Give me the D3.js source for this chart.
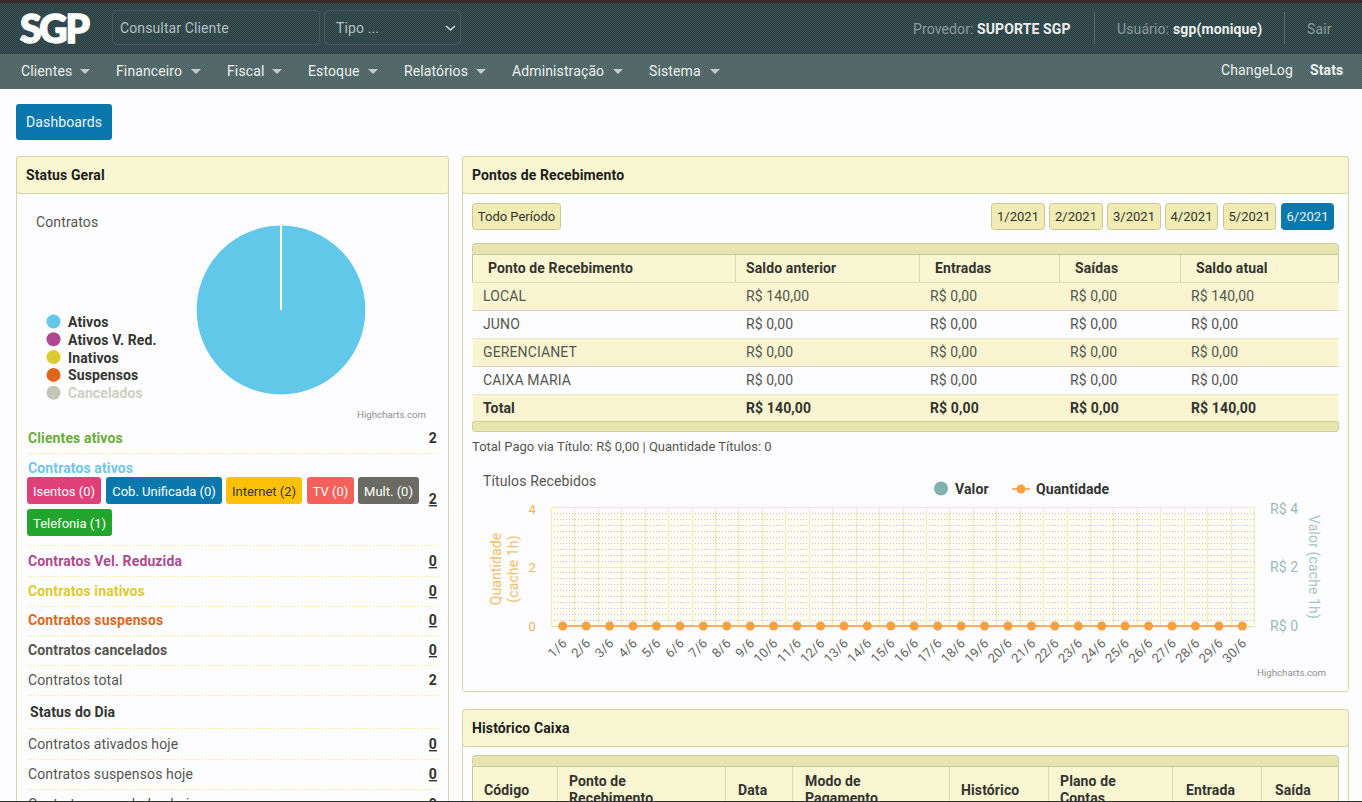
<!DOCTYPE html>
<html lang="pt"><head><meta charset="utf-8">
<script src="https://cdn.jsdelivr.net/npm/d3@7"></script>
<style>
html,body{margin:0;padding:0;background:#fdfdff;overflow:hidden}
svg{display:block}
text{font-family:Roboto,sans-serif;letter-spacing:.12px}
</style></head><body><div id="c"></div>
<script>
// ---- data ----
const navItems=["Clientes","Financeiro","Fiscal","Estoque","Relatórios","Administração","Sistema"];
const pieNames=["Ativos","Ativos V. Red.","Inativos","Suspensos","Cancelados"];
const pieValues=[2,0,0,0,0];
const pieColors=["#62c8ea","#b0488f","#dccb2e","#e0661a","#c6c6b8"];
const days=d3.range(1,31).map(d=>d+"/6");
const quantidade=days.map(()=>0);
const valor=days.map(()=>0);
const axisTicks=[0,2,4];
const periods=["1/2021","2/2021","3/2021","4/2021","5/2021","6/2021"];
const tableCols=["Ponto de Recebimento","Saldo anterior","Entradas","Saídas","Saldo atual"];
const tableRows=[["LOCAL","R$ 140,00","R$ 0,00","R$ 0,00","R$ 140,00"],["JUNO","R$ 0,00","R$ 0,00","R$ 0,00","R$ 0,00"],["GERENCIANET","R$ 0,00","R$ 0,00","R$ 0,00","R$ 0,00"],["CAIXA MARIA","R$ 0,00","R$ 0,00","R$ 0,00","R$ 0,00"],["Total","R$ 140,00","R$ 0,00","R$ 0,00","R$ 140,00"]];
const histCols=[["Código"],["Ponto de","Recebimento"],["Data"],["Modo de","Pagamento"],["Histórico"],["Plano de","Contas"],["Entrada"],["Saída"]];
const badges=[["Isentos (0)","#e0407a","#fff"],["Cob. Unificada (0)","#0a78ad","#fff"],["Internet (2)","#ffc107","#333"],["TV (0)","#f4605a","#fff"],["Mult. (0)","#6b6b63","#fff"],["Telefonia (1)","#22a52c","#fff"]];
const statusRows=[["Clientes ativos","2","#6cab3c",700,0],["Contratos Vel. Reduzida","0","#b0488f",700,1],["Contratos inativos","0","#dccb2e",700,1],["Contratos suspensos","0","#e0661a",700,1],["Contratos cancelados","0","#55554f",700,1],["Contratos total","2","#55554f",400,0],["Contratos ativados hoje","0","#55554f",400,1],["Contratos suspensos hoje","0","#55554f",400,1],["Contratos cancelados hoje","0","#55554f",400,1]];

// ---- layout ----
const svg=d3.select("#c").append("svg").attr("width",1362).attr("height",802);
const defs=svg.append("defs");
function dither(id,a,b,s=2){const p=defs.append("pattern").attr("id",id).attr("width",s).attr("height",s).attr("patternUnits","userSpaceOnUse");
 p.append("rect").attr("width",s).attr("height",s).attr("fill",a);
 p.append("rect").attr("width",s/2).attr("height",s/2).attr("fill",b);
 p.append("rect").attr("x",s/2).attr("y",s/2).attr("width",s/2).attr("height",s/2).attr("fill",b);}
dither("dTop","#2a3f42","#3a5256");
dither("dNav","#4b6160","#5a6f70");
const panelFill="#f9f6d2",rowFill="#f8f5d0",btnFill="#f0ecb4",barFill="#e9e5ae";
function T(x,y,s,o={}){const sz=o.size||14;const t=svg.append("text").attr("x",x).attr("y",y).text(s)
 .attr("font-size",sz).attr("font-weight",o.w||400).attr("fill",o.c||"#55554f").attr("text-anchor",o.a||"start");
 if(sz<14)t.style("letter-spacing","0");
 if(o.u)t.attr("text-decoration","underline");if(o.r)t.attr("transform",`rotate(${o.r} ${x} ${y})`);if(o.op)t.attr("opacity",o.op);return t;}
function R(x,y,w,h,f,o={}){return svg.append("rect").attr("x",x).attr("y",y).attr("width",w).attr("height",h).attr("fill",f).attr("stroke",o.s||"none").attr("stroke-width",o.sw||1).attr("rx",o.rx||0);}
function L(x1,y1,x2,y2,c,o={}){return svg.append("line").attr("x1",x1).attr("y1",y1).attr("x2",x2).attr("y2",y2).attr("stroke",c).attr("stroke-width",o.sw||1).attr("stroke-dasharray",o.d||null);}

// top bar
R(0,0,1362,54,"url(#dTop)");R(0,0,1362,3,"#3a2c28");
R(0,54,1362,35,"url(#dNav)");
T(20,43,"SGP",{size:39,w:900,c:"#fff"}).style("font-family","Lato,Roboto").attr("textLength",70).attr("stroke","#fff").attr("stroke-width",1.5);
R(112.5,10.5,207,34,"none",{s:"#42586a",rx:4});T(120,33,"Consultar Cliente",{c:"#b4bfc0"});
R(324.5,10.5,136,34,"none",{s:"#42586a",rx:4});T(336,33,"Tipo ...",{c:"#b4bfc0"});
svg.append("path").attr("d","M446 26l4.5 4 4.5-4").attr("fill","none").attr("stroke","#d0d6d6").attr("stroke-width",1.6);
T(913,34,"Provedor:",{c:"#8b9a9c"});T(977,34,"SUPORTE SGP",{w:700,c:"#eef0f0"});
L(1094.5,12,1094.5,44,"#556a70");T(1117,34,"Usuário:",{c:"#8b9a9c"});T(1173,34,"sgp(monique)",{w:700,c:"#eef0f0"});
L(1284.5,12,1284.5,44,"#556a70");T(1307,34,"Sair",{c:"#8b9a9c"});
const navX=[21,116,227,308,404,512,649],navCaret=[85,196,277,373,481,618,715];
navItems.forEach((n,i)=>{T(navX[i],76,n,{c:"#eef1f0"});svg.append("path").attr("d",`M${navCaret[i]-5} 69h10l-5 5z`).attr("fill","#c3ccca");});
T(1221,75,"ChangeLog",{c:"#eef1f0"});T(1310,75,"Stats",{w:700,c:"#eef1f0"});
R(16,104,96,36,"#0a78ad",{rx:3});T(26,127,"Dashboards",{c:"#eef5f8"});

function panel(x,y,w,h,title){R(x+.5,y+.5,w,h,"#fdfdff",{s:"#d5d3a8",rx:3});
 R(x+.5,y+.5,w,37,panelFill,{s:"#d5d3a8",rx:3});T(x+10,y+24,title,{w:700,c:"#1c1c1c"});}
panel(16,156,432,660,"Status Geral");
panel(462,156,886,535,"Pontos de Recebimento");
panel(462,709,886,110,"Histórico Caixa");

// pie
T(36,227,"Contratos");
const pieG=svg.append("g").attr("transform","translate(281,310)");
const arc=d3.arc().innerRadius(0).outerRadius(85);
pieG.selectAll("path").data(d3.pie().sort(null).startAngle(0).endAngle(2*Math.PI)(pieValues).map((d,i)=>i?{...d,startAngle:2*Math.PI,endAngle:2*Math.PI}:d)).join("path")
 .attr("d",arc).attr("fill",(d,i)=>pieColors[i]).attr("stroke","#fdfdff").attr("stroke-width",1.2);
pieG.append("path").attr("d",arc({startAngle:0,endAngle:0})).attr("stroke","#fdfdff").attr("stroke-width",1.6).attr("fill","none");
pieNames.forEach((n,i)=>{const y=322+i*17.8;svg.append("circle").attr("cx",53.5).attr("cy",y-.5).attr("r",7).attr("fill",pieColors[i]);
 T(68,y+5,n,{w:700,c:i==4?"#cfcfc2":"#33332f"});});
T(357,418,"Highcharts.com",{size:9.7,c:"#8e8e88"});T(1257,676,"Highcharts.com",{size:9.7,c:"#8e8e88"});

// status rows
const statusY=[443,566,596,625,655,685,749,779,809];
statusRows.forEach((r,i)=>{T(28,statusY[i],r[0],{w:r[3],c:r[2]});T(437,statusY[i],r[1],{w:700,c:"#33332f",a:"end",u:r[4]});L(28,statusY[i]+10.5,437,statusY[i]+10.5,"#f2ea80",{d:"1 2"});});
T(28,473,"Contratos ativos",{w:700,c:"#72c6ea"});
T(437,504,"2",{w:700,c:"#33332f",a:"end",u:1});L(28,545.5,437,545.5,"#f2ea80",{d:"1 2"});
const badgeBox=[[27,477,74],[106,477,116],[226,477,76],[307,477,47],[358,477,61],[27,509,85]];
badges.forEach((b,i)=>{const k=badgeBox[i];R(k[0],k[1],k[2],27,b[1],{rx:3});T(k[0]+k[2]/2,k[1]+19,b[0],{size:13,c:b[2],a:"middle"});});
T(30,717,"Status do Dia",{w:700,c:"#33332f"});L(28,728.5,437,728.5,"#f2ea80",{d:"1 2"});

// period buttons
R(472.5,203.5,88,26,btnFill,{s:"#c9c69c",rx:3});T(516.5,221,"Todo Período",{size:13,c:"#33332f",a:"middle"});
const perX=[991,1049,1107,1165,1223,1281];const perW=[53,53,53,52,52,52];
periods.forEach((p,i)=>{const on=i==5;R(perX[i]+.5,203.5,perW[i],26,on?"#0a78ad":btnFill,{s:on?"#0a78ad":"#c9c69c",rx:3});T(perX[i]+perW[i]/2+.5,221,p,{size:13,c:on?"#e8f2f6":"#33332f",a:"middle"});});

// table
const tx=[472,735,919,1059,1180,1339],dx=[483,746,930,1070,1191],hx=[488,746,935,1075,1196];
R(472.5,243.5,866,11,barFill,{s:"#cfcb9e",rx:3});
R(472.5,254.5,866,28,panelFill,{s:"#c9c6a4"});
tableCols.forEach((c,i)=>{T(hx[i],273,c,{w:700,c:"#33332f"});if(i)L(tx[i]+.5,255,tx[i]+.5,282,"#d8d6c0");});
tableRows.forEach((r,j)=>{const y=282+j*28;if(j%2==0)R(472.5,y+.5,866,28,rowFill);L(472,y+28.5,1339,y+28.5,"#d6d4c8");
 r.forEach((v,i)=>T(dx[i],y+19,v,{w:j==4?700:400,c:j==4?"#33332f":"#55554f"}));});
R(472.5,421.5,866,10,barFill,{s:"#cfcb9e",rx:3});
T(472,451,"Total Pago via Título: R$ 0,00 | Quantidade Títulos: 0",{size:13});

// combo chart
T(483,486,"Títulos Recebidos");
const plot={l:551,r:1254,t:507,b:626};
const x=d3.scaleBand().domain(days).range([plot.l,plot.r]);
const yQ=d3.scaleLinear().domain([0,4]).range([plot.b,plot.t]);
const yV=d3.scaleLinear().domain([0,4]).range([plot.b,plot.t]);
const g=svg.append("g");
g.append("rect").attr("x",plot.l).attr("y",plot.t).attr("width",plot.r-plot.l).attr("height",plot.b-plot.t).attr("fill","#fefef2");
g.selectAll(".hg").data(d3.range(0,4.01,.2)).join("line").attr("x1",plot.l).attr("x2",plot.r).attr("y1",d=>Math.round(yQ(d))+.5).attr("y2",d=>Math.round(yQ(d))+.5).attr("stroke","#bcbce4").attr("stroke-dasharray","1 2");
g.selectAll(".vg").data(days.concat(["e"])).join("line").attr("x1",(d,i)=>Math.round(plot.l+i*x.step())+.5).attr("x2",(d,i)=>Math.round(plot.l+i*x.step())+.5).attr("y1",plot.t).attr("y2",plot.b).attr("stroke","#f2ecb0");
g.selectAll(".hm").data(axisTicks).join("line").attr("x1",plot.l).attr("x2",plot.r).attr("y1",d=>Math.round(yQ(d))+.5).attr("y2",d=>Math.round(yQ(d))+.5).attr("stroke","#f2ecb0");
// zero-height columns for Valor
g.selectAll(".bar").data(valor).join("rect").attr("x",(d,i)=>x(days[i])+3).attr("width",x.bandwidth()-6).attr("y",d=>yV(d)).attr("height",d=>plot.b-yV(d)).attr("fill","#7cb5ec");
const xAxis=svg.append("g").attr("transform",`translate(0,${plot.b})`).call(d3.axisBottom(x).tickSize(0).tickPadding(0));
xAxis.select(".domain").attr("stroke","#e6d9a0");
xAxis.selectAll("text").attr("font-size",13).attr("fill","#66665f").attr("text-anchor","end").attr("dy",0).attr("y",0).attr("transform","translate(5,18) rotate(-45)").style("font-family","Roboto");
const lAxis=svg.append("g").attr("transform",`translate(${plot.l},0)`).call(d3.axisLeft(yQ).tickValues(axisTicks).tickFormat(d3.format("d")).tickSize(0).tickPadding(15));
lAxis.select(".domain").remove();lAxis.selectAll("text").attr("font-size",13).attr("fill","#f4b45c").style("font-family","Roboto").attr("y",d=>d==4?2:d==2?1:0);
const rAxis=svg.append("g").attr("transform",`translate(${plot.r},0)`).call(d3.axisRight(yV).tickValues(axisTicks).tickFormat(d=>"R$ "+d).tickSize(0).tickPadding(16));
rAxis.select(".domain").remove();rAxis.selectAll("text").attr("font-size",14).attr("fill","#9db8b8").style("font-family","Roboto").attr("y",d=>d==4?2:d==2?1:0);
const line=d3.line().x((d,i)=>x(days[i])+x.bandwidth()/2).y(d=>yQ(d));
svg.append("path").attr("d",line(quantidade)).attr("fill","none").attr("stroke","#f3b06a").attr("stroke-width",2);
svg.selectAll(".pt").data(quantidade).join("circle").attr("cx",(d,i)=>x(days[i])+x.bandwidth()/2).attr("cy",d=>yQ(d)).attr("r",4.5).attr("fill","#f6a13e");
T(501,569,"Quantidade",{size:14,c:"#f1c06a",a:"middle",r:-90});T(518,569,"(cache 1h)",{size:14,c:"#f1c06a",a:"middle",r:-90});
T(1309,567,"Valor (cache 1h)",{size:14,c:"#a8c4c0",a:"middle",r:90});
svg.append("circle").attr("cx",941).attr("cy",488.5).attr("r",7).attr("fill","#7fb2b0");T(955,494,"Valor",{w:700,c:"#33332f"});
L(1012,489,1030,489,"#f3b06a",{sw:2});svg.append("circle").attr("cx",1021).attr("cy",489).attr("r",4.5).attr("fill","#f6a13e");T(1036,494,"Quantidade",{w:700,c:"#33332f"});

// Histórico table
R(472.5,755.5,866,11,barFill,{s:"#cfcb9e",rx:3});
R(472.5,766.5,866,40,panelFill,{s:"#c9c6a4"});
const hcx=[472,557,725,792,949,1048,1172,1261],hcl=[484,569,738,805,961,1060,1186,1275];
histCols.forEach((c,i)=>{if(i)L(hcx[i]+.5,767,hcx[i]+.5,806,"#d8d6c0");
 if(c.length==1)T(hcl[i],795,c[0],{w:700,c:"#33332f"});else{T(hcl[i],786,c[0],{w:700,c:"#33332f"});T(hcl[i],803,c[1],{w:700,c:"#33332f"});}});
R(0,801,1362,1,"#33332f");
</script></body></html>
